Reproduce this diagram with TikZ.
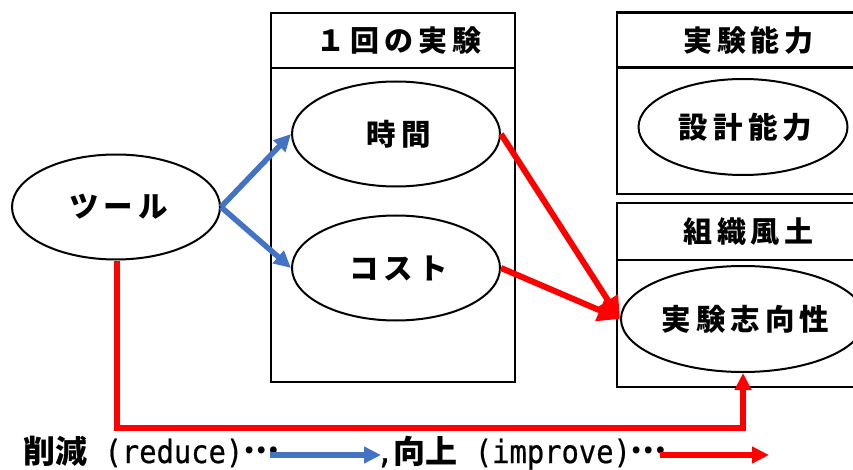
\documentclass[tikz,border=0pt]{standalone}
\usepackage{fontspec}
\setmainfont{Noto Sans CJK JP}
\newfontfamily\jpsp{Noto Sans CJK JP}[LetterSpace=17]
\newfontfamily\jpleg{Noto Sans CJK JP}
\newfontfamily\monoleg{DejaVu Sans Mono}[FakeStretch=0.9,FakeBold=0.6]
\usetikzlibrary{shapes.geometric,arrows.meta}
\definecolor{cblue}{HTML}{4472C4}
\definecolor{cred}{HTML}{FF0000}
\tikzset{
  oval/.style={ellipse, draw=black, line width=2pt, inner sep=0pt,
    minimum width=208pt, minimum height=105pt, font=\jpsp\bfseries\fontsize{29.5}{32}\selectfont},
  frame/.style={draw=black, line width=2.5pt, inner sep=0pt},
  head/.style={frame, font=\jpsp\bfseries\fontsize{29}{32}\selectfont},
  barrow/.style={draw=cblue, line width=5.5pt, -{Triangle[length=17pt,width=16pt]}},
  rarrow/.style={draw=cred, line width=5.5pt, -{Triangle[length=17pt,width=16pt]}},
  rbig/.style={draw=cred, line width=6pt, -{Triangle[length=22pt,width=22pt]}},
  legend/.style={anchor=base west, inner sep=0pt},
}
\newcommand{\cjkL}{\jpleg\bfseries\fontsize{32}{34}\selectfont}
\newcommand{\monoL}{\monoleg\fontsize{32}{34}\selectfont}
\begin{document}
\begin{tikzpicture}[x=1pt,y=-1pt]
\useasboundingbox (0,0) rectangle (853,470);
% boxes
\node[frame, minimum width=244pt, minimum height=314pt] (b1body) at (393,225) {};
\node[head, minimum width=244pt, minimum height=55pt] (b1head) at (393,40.5) {\hspace*{12pt}１回の実験};
\node[frame, minimum width=258pt, minimum height=127pt] (b2body) at (746,130.5) {};
\node[head, minimum width=258pt, minimum height=55pt] (b2head) at (746,40) {\hspace*{5pt}実験能力};
\node[frame, minimum width=258pt, minimum height=127pt] (b3body) at (746,323.5) {};
\node[head, minimum width=258pt, minimum height=57pt] (b3head) at (746,231.5) {\hspace*{5pt}組織風土};
% ellipses
\node[oval, fill=white] (tool) at (116,207) {\hspace*{5pt}ツール};
\node[oval, fill=white] (time) at (396,134) {\hspace*{5pt}時間};
\node[oval, fill=white] (cost) at (396,268) {\hspace*{5pt}コスト};
\node[oval, fill=white, minimum width=209pt, minimum height=96pt] (design) at (743,127) {\hspace*{5pt}設計能力};
\node[oval, fill=white, minimum width=210pt, minimum height=106pt] (exp) at (743,319) {\hspace*{5pt}実験志向性};
% arrows
\draw[barrow] (tool.east) -- (time.west);
\draw[barrow] (tool.east) -- (cost.west);
\draw[rbig] (time.east) -- (exp.west);
\draw[rbig] (cost.east) -- (exp.west);
\coordinate (turn) at (117,428);
\draw[rarrow] (tool.south -| turn) -- (turn) -| (exp.south);
% legend
\node[legend] (l1) at (23,463) {{\cjkL 削減}{\monoL\ (reduce)}{\cjkL\raisebox{0.3em}{…}}};
\node[legend] (l2) at (376,463) {{\monoL ,}{\cjkL 向上}{\monoL\ (improve)}{\cjkL\raisebox{0.3em}{…}}};
\coordinate (l1a) at (270,455);
\coordinate (l1b) at (381,455);
\coordinate (l2a) at (660,455);
\coordinate (l2b) at (769,455);
\draw[barrow] (l1a) -- (l1b);
\draw[rarrow] (l2a) -- (l2b);
\end{tikzpicture}
\end{document}
